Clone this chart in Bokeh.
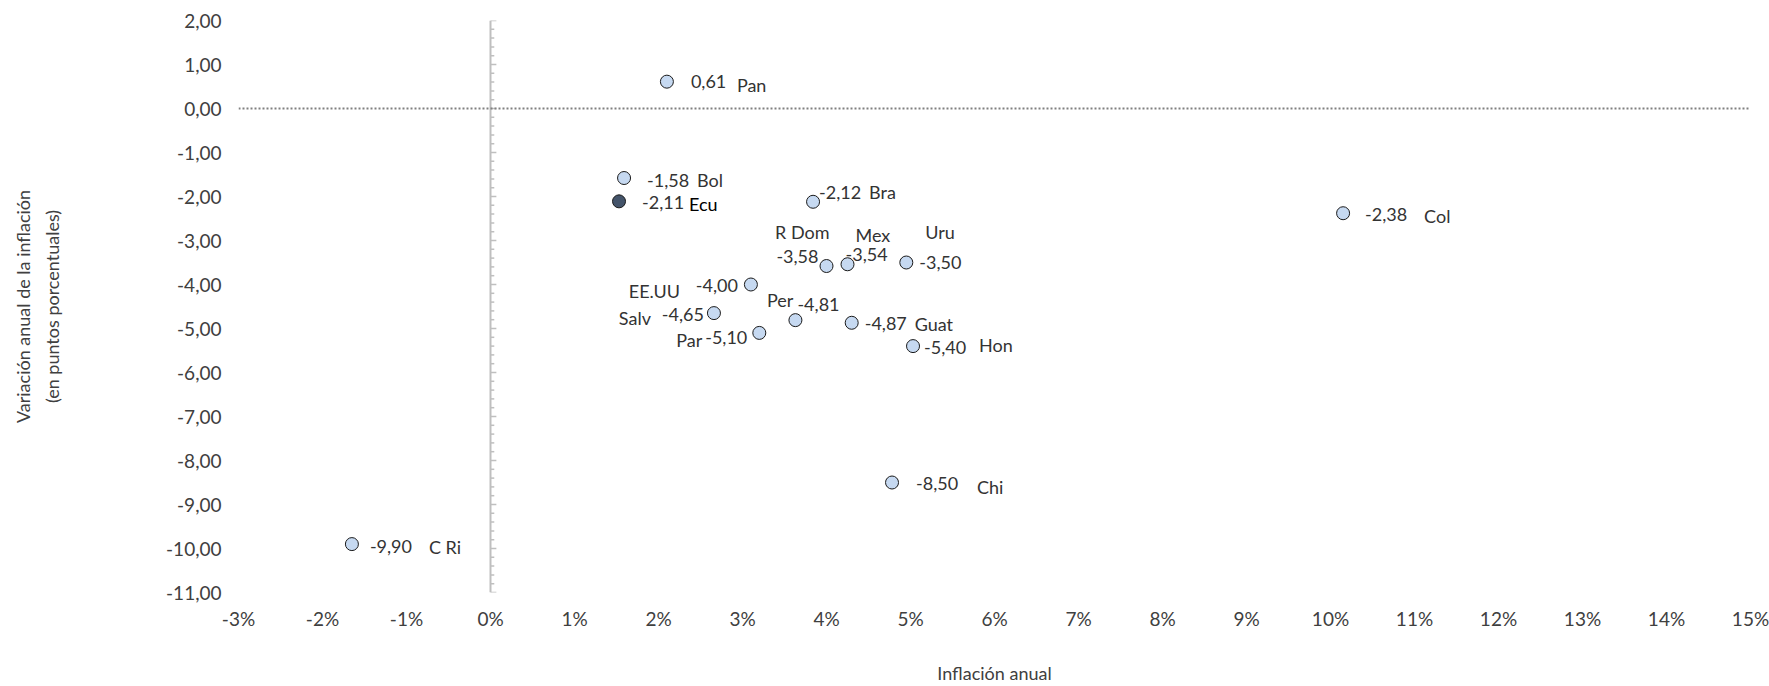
from bokeh.plotting import figure
from bokeh.models import ColumnDataSource, Range1d, FixedTicker, Title
from bokeh.core.properties import value
from bokeh.embed import file_html
from bokeh.resources import INLINE

# ---------------- data ----------------
countries = ["Pan", "Bol", "Ecu", "Bra", "Col", "R Dom", "Mex", "Uru", "EE.UU",
             "Salv", "Per", "Guat", "Par", "Hon", "Chi", "C Ri"]
inflation = [2.10, 1.59, 1.53, 3.84, 10.15, 4.00, 4.25, 4.95, 3.10,
             2.66, 3.63, 4.30, 3.20, 5.03, 4.78, -1.65]          # % anual
variation = [0.61, -1.58, -2.11, -2.12, -2.38, -3.58, -3.54, -3.50, -4.00,
             -4.65, -4.81, -4.87, -5.10, -5.40, -8.50, -9.90]    # p.p.
highlight = "Ecu"

x_ticks = list(range(-3, 16))
y_ticks = list(range(-11, 3))
x_tick_labels = {t: f"{t}%" for t in x_ticks}
y_tick_labels = {t: f"{t:.2f}".replace(".", ",") for t in y_ticks}

# ---------------- label layout (screen px: align, dx, dy-down) ----------------
value_pos = {
    "Pan": ("left", 24, 0), "Bol": ("left", 23, 2), "Ecu": ("left", 23, 1),
    "Bra": ("left", 6, -9), "Col": ("left", 22, 1), "R Dom": ("right", -8, -10),
    "Mex": ("left", -2, -10), "Uru": ("left", 13, 0), "EE.UU": ("right", -13, 1),
    "Salv": ("right", -10, 1), "Per": ("left", 2, -16), "Guat": ("left", 13, 1),
    "Par": ("right", -12, 5), "Hon": ("left", 11, 1), "Chi": ("left", 24, 1),
    "C Ri": ("left", 18, 2),
}
name_pos = {
    "Pan": ("left", 70, 3), "Bol": ("left", 73, 2), "Ecu": ("left", 70, 3),
    "Bra": ("left", 56, -10), "Col": ("left", 81, 3), "R Dom": ("right", 3, -34),
    "Mex": ("left", 8, -29), "Uru": ("left", 19, -31), "EE.UU": ("right", -71, 6),
    "Salv": ("right", -63, 5), "Per": ("right", -2, -20), "Guat": ("left", 63, 1),
    "Par": ("right", -57, 7), "Hon": ("left", 66, -1), "Chi": ("left", 85, 4),
    "C Ri": ("left", 77, 3),
}

FONT = "Lato"
TXT = "#333333"
AXT = "#404040"
W, H = 1769, 686
BL, BR, BT, BB = 238, 19, 20, 93

p = figure(width=W, height=H, output_backend="svg", toolbar_location=None,
           x_range=Range1d(-3, 15), y_range=Range1d(-11, 2),
           min_border_left=BL, min_border_right=BR, min_border_top=BT,
           min_border_bottom=BB)
p.outline_line_color = None
p.xgrid.grid_line_color = None
p.ygrid.grid_line_color = None
p.background_fill_color = "white"
p.border_fill_color = "white"

for ax, ticks, labels, standoff in ((p.xaxis[0], x_ticks, x_tick_labels, 14),
                                    (p.yaxis[0], y_ticks, y_tick_labels, 17)):
    ax.ticker = FixedTicker(ticks=ticks)
    ax.major_label_overrides = labels
    ax.axis_line_color = None
    ax.major_tick_line_color = None
    ax.minor_tick_line_color = None
    ax.major_tick_out = 0
    ax.major_tick_in = 0
    ax.minor_tick_out = 0
    ax.minor_tick_in = 0
    ax.major_label_standoff = standoff
    ax.major_label_text_font = FONT
    ax.major_label_text_font_size = "19px"
    ax.major_label_text_color = AXT
    ax.axis_label_text_font = FONT
    ax.axis_label_text_font_size = "18px"
    ax.axis_label_text_font_style = "normal"
    ax.axis_label_text_color = AXT

p.xaxis[0].axis_label = "Inflación anual"
p.xaxis[0].axis_label_standoff = 29
p.yaxis[0].axis_label = "(en puntos porcentuales)"
p.yaxis[0].axis_label_standoff = 100
p.add_layout(Title(text="Variación anual de la inflación", align="center",
                   text_font=FONT, text_font_size="18px",
                   text_font_style="normal", text_color=AXT, standoff=10),
             "left")

# vertical axis line at 0% with ticks
p.segment(x0=[0], y0=[-11], x1=[0], y1=[2], line_color="#bfbfbf", line_width=2)
minor_y = [round(-11 + 0.2 * i, 2) for i in range(66)]
tick_len = [0.07 if abs(v - round(v)) < 1e-6 else 0.045 for v in minor_y]
p.segment(x0=[0] * len(minor_y), y0=minor_y, x1=tick_len, y1=minor_y,
          line_color="#bfbfbf", line_width=1.5)

# dotted zero line
p.segment(x0=[-3], y0=[0], x1=[15], y1=[0], line_color="#808080",
          line_width=2, line_dash="2 2")

# points
fills = ["#44546a" if c == highlight else "#c6d9f1" for c in countries]
src = ColumnDataSource(dict(x=inflation, y=variation, fill=fills))
p.scatter("x", "y", source=src, size=13, fill_color="fill",
          line_color="#1a1a1a", line_width=1)

# labels
def add_labels(pos, texts, colors):
    for align in ("left", "right"):
        d = dict(x=[], y=[], t=[], dx=[], dy=[], c=[])
        for c, xv, yv, t, col in zip(countries, inflation, variation, texts, colors):
            a, dx, dy = pos[c]
            if a != align:
                continue
            d["x"].append(xv); d["y"].append(yv); d["t"].append(t)
            d["dx"].append(dx); d["dy"].append(dy); d["c"].append(col)
        if d["x"]:
            p.text("x", "y", text="t", x_offset="dx", y_offset="dy",
                   text_color="c", source=ColumnDataSource(d),
                   text_align=align, text_baseline="middle",
                   text_font=value(FONT), text_font_size="18px")

val_texts = [f"{v:.2f}".replace(".", ",") for v in variation]
add_labels(value_pos, val_texts, [TXT] * len(countries))
add_labels(name_pos, countries,
           ["#000000" if c == highlight else TXT for c in countries])

open("out.html", "w").write(file_html(p, INLINE))
